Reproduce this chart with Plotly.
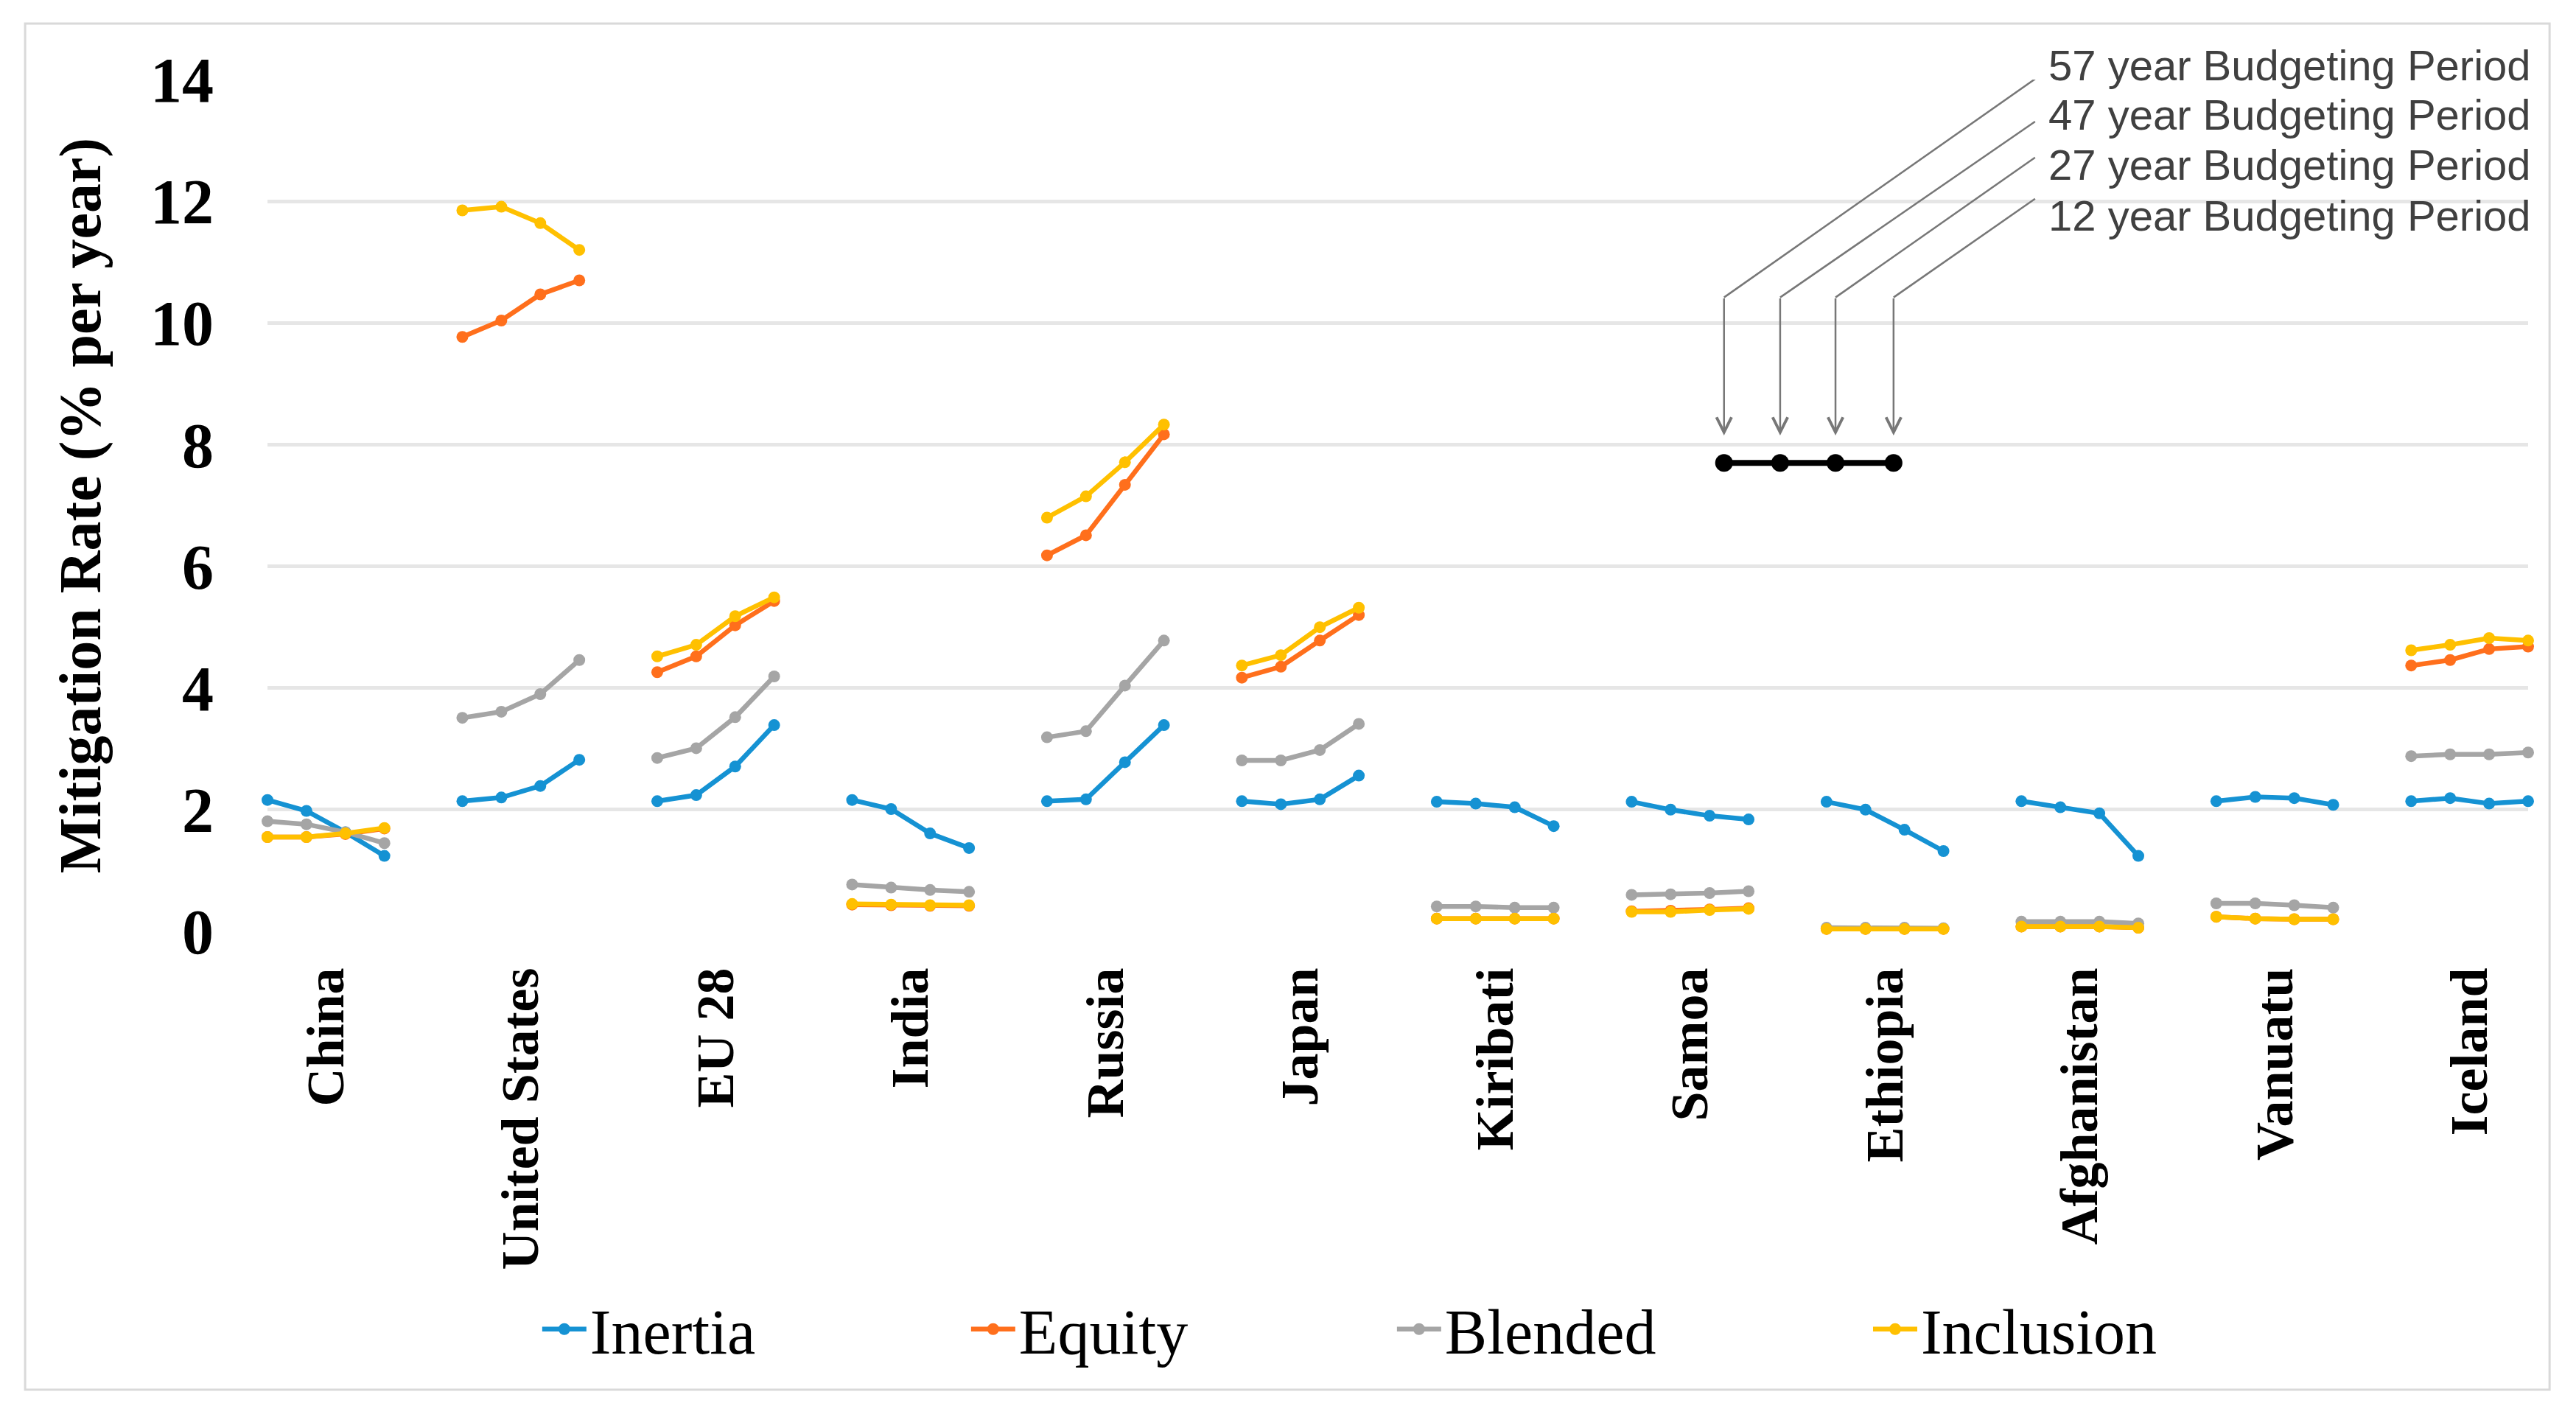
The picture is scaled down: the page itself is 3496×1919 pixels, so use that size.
import plotly.graph_objects as go

countries = ["China", "United States", "EU 28", "India", "Russia", "Japan",
             "Kiribati", "Samoa", "Ethiopia", "Afghanistan", "Vanuatu", "Iceland"]

# four budgeting periods per country: 57, 47, 27, 12 years
inertia = [
    [2.16, 1.98, 1.63, 1.24], [2.14, 2.20, 2.39, 2.82], [2.14, 2.24, 2.71, 3.39],
    [2.16, 2.01, 1.61, 1.37], [2.14, 2.17, 2.78, 3.39], [2.14, 2.09, 2.17, 2.56],
    [2.13, 2.10, 2.04, 1.73], [2.13, 2.00, 1.90, 1.84], [2.13, 2.00, 1.67, 1.32],
    [2.14, 2.04, 1.94, 1.24], [2.14, 2.21, 2.19, 2.08], [2.14, 2.19, 2.10, 2.14]]
equity = [
    [1.55, 1.55, 1.60, 1.69], [9.77, 10.04, 10.47, 10.70], [4.26, 4.52, 5.03, 5.43],
    [0.44, 0.43, 0.42, 0.42], [6.18, 6.51, 7.34, 8.17], [4.17, 4.35, 4.78, 5.20],
    [0.21, 0.21, 0.21, 0.21], [0.33, 0.34, 0.36, 0.38], [0.04, 0.04, 0.04, 0.04],
    [0.08, 0.08, 0.08, 0.06], [0.24, 0.21, 0.20, 0.20], [4.37, 4.46, 4.64, 4.68]]
blended = [
    [1.81, 1.76, 1.63, 1.45], [3.51, 3.61, 3.90, 4.46], [2.85, 3.01, 3.52, 4.19],
    [0.77, 0.72, 0.68, 0.65], [3.19, 3.29, 4.04, 4.78], [2.81, 2.81, 2.98, 3.41],
    [0.41, 0.41, 0.39, 0.39], [0.60, 0.61, 0.63, 0.66], [0.06, 0.06, 0.06, 0.05],
    [0.16, 0.16, 0.16, 0.13], [0.46, 0.46, 0.43, 0.39], [2.88, 2.91, 2.91, 2.94]]
inclusion = [
    [1.55, 1.55, 1.61, 1.70], [11.85, 11.91, 11.64, 11.20], [4.52, 4.71, 5.18, 5.49],
    [0.45, 0.44, 0.43, 0.43], [6.80, 7.15, 7.71, 8.33], [4.37, 4.54, 5.00, 5.32],
    [0.21, 0.21, 0.21, 0.21], [0.32, 0.32, 0.35, 0.37], [0.04, 0.04, 0.04, 0.04],
    [0.08, 0.08, 0.08, 0.06], [0.24, 0.21, 0.20, 0.20], [4.62, 4.71, 4.82, 4.78]]

period_labels = ["57 year Budgeting Period", "47 year Budgeting Period",
                 "27 year Budgeting Period", "12 year Budgeting Period"]
# schematic key: position on the category axis and value of the black marker line
key_x = [37.37, 38.81, 40.23, 41.72]
key_y = [7.70, 7.70, 7.70, 7.70]

y_ticks = [0, 2, 4, 6, 8, 10, 12, 14]

SLOTS = 5  # 4 periods + 1 blank slot per country


def flatten(series):
    xs, ys = [], []
    for g, vals in enumerate(series):
        for k, v in enumerate(vals):
            xs.append(g * SLOTS + k)
            ys.append(v)
        xs.append(None)
        ys.append(None)
    return xs, ys


series = [("Inertia", inertia, "#1592d3"),
          ("Equity", equity, "#ff6f1c"),
          ("Blended", blended, "#a5a5a5"),
          ("Inclusion", inclusion, "#ffc000")]
legend_ids = ["legend", "legend2", "legend3", "legend4"]
legend_x = [0.1199, 0.3096, 0.4980, 0.7086]

fig = go.Figure()
for (name, data, color), lid in zip(series, legend_ids):
    xs, ys = flatten(data)
    fig.add_trace(go.Scatter(
        x=xs, y=ys, name=name, mode="lines+markers", connectgaps=False,
        line=dict(color=color, width=6.5), marker=dict(color=color, size=16),
        cliponaxis=False, legend=lid))

fig.add_trace(go.Scatter(
    x=key_x, y=key_y, mode="lines+markers", showlegend=False,
    line=dict(color="black", width=8), marker=dict(color="black", size=24),
    cliponaxis=False))

# budgeting period call-outs
text_x = 45.65
text_y_paper = [1.0173, 0.9585, 0.8997, 0.8408]
diag_end_x = 45.35
diag_end_y = [14.01, 13.31, 12.72, 12.04]
knee_y = 10.42
tip_y = 8.15
arrow_color = "#777777"
for i, lab in enumerate(period_labels):
    fig.add_annotation(x=text_x, y=text_y_paper[i], xref="x", yref="paper", text=lab,
                       showarrow=False, xanchor="left", yanchor="middle",
                       font=dict(family="Liberation Sans", size=58, color="#404040"))
    fig.add_shape(type="line", xref="x", yref="y",
                  x0=diag_end_x, y0=diag_end_y[i], x1=key_x[i], y1=knee_y,
                  line=dict(color=arrow_color, width=2.5))
    fig.add_annotation(x=key_x[i], y=tip_y, ax=key_x[i], ay=knee_y,
                       xref="x", yref="y", axref="x", ayref="y", text="",
                       showarrow=True, arrowhead=5, arrowsize=1.6, arrowwidth=2.5,
                       arrowcolor=arrow_color)

# outer chart border
fig.add_shape(type="rect", xref="paper", yref="paper",
              x0=-0.1072, x1=1.0095, y0=-0.538, y1=1.0657,
              line=dict(color="#d9d9d9", width=3), fillcolor="rgba(0,0,0,0)")

legend_style = dict(orientation="h", y=-0.467, xanchor="left", yanchor="middle",
                    itemwidth=60,
                    font=dict(family="Liberation Serif", size=86, color="black"),
                    bgcolor="rgba(0,0,0,0)")
fig.update_layout(
    width=3496, height=1919, autosize=False,
    margin=dict(l=363, r=65, t=108, b=655),
    paper_bgcolor="white", plot_bgcolor="white",
    showlegend=True,
)
for lid, lx in zip(legend_ids, legend_x):
    fig.update_layout({lid: dict(x=lx, **legend_style)})

fig.update_xaxes(
    range=[0, len(countries) * SLOTS - 2], showgrid=False, zeroline=False,
    showline=False,
    tickmode="array", tickvals=[g * SLOTS + 1.5 for g in range(len(countries))],
    ticktext=countries, tickangle=-90, ticks="",
    ticklabelstandoff=34,
    tickfont=dict(family="Liberation Serif", size=72, color="black", weight="bold"))
fig.update_yaxes(
    range=[0, 14], tickmode="array", tickvals=y_ticks,
    showgrid=True, gridcolor="#e6e6e6", gridwidth=5, zeroline=False, showline=False,
    ticks="", ticklabelstandoff=72,
    tickfont=dict(family="Liberation Serif", size=86, color="black", weight="bold"),
    title=dict(text="Mitigation Rate (% per year)", standoff=41,
               font=dict(family="Liberation Serif", size=80, color="black", weight="bold")))

fig.write_html("out.html", config={"displayModeBar": False},
               post_script="document.body.style.margin='0';")
